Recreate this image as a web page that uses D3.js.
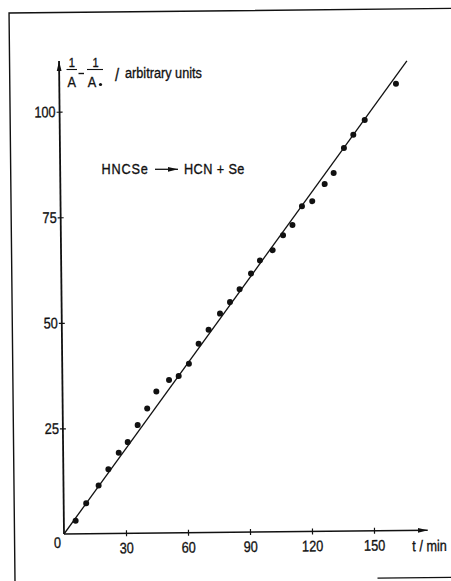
<!DOCTYPE html>
<html>
<head>
<meta charset="utf-8">
<script src="https://cdn.jsdelivr.net/npm/d3@7"></script>
<style>
  body { margin: 0; background: #fff; }
  svg text { font-family: "Liberation Sans", Arial, sans-serif; fill: #111; stroke: #111; stroke-width: 0.35; }
</style>
</head>
<body>
<div id="figure-container"></div>
<script>
// measured points, t in min and 1/A - 1/A0 in arbitrary units
var times = [5.7, 10.9, 17.0, 21.8, 26.9, 31.3, 36.2, 40.9, 45.4, 51.6, 56.3, 61.3, 66.1, 71.0, 76.6,
  81.5, 86.2, 91.8, 96.2, 102.4, 107.5, 112.1, 116.8, 121.8, 127.9, 132.3, 137.4, 142.0, 147.6, 162.9];
var values = [3.1, 7.2, 11.4, 15.2, 19.1, 21.6, 25.6, 29.5, 33.5, 36.2, 37.1, 40.0, 44.7, 48.0, 51.8,
  54.5, 57.5, 61.2, 64.3, 66.7, 70.2, 72.6, 77.0, 78.2, 82.2, 84.8, 90.7, 93.8, 97.3, 105.8];

// straight line through the origin
var fitT = [0, 168.3];
var fitV = [0, 111.2];

var xTicks = [30, 60, 90, 120, 150];
var yTicks = [25, 50, 75, 100];
var xAxisEnd = 176;
var yAxisEnd = 112;

var fullWidth = 451;
var fullHeight = 581;
var origin = {x: 64, y: 534};
var tilt = -0.6; // the scan is a bit rotated
var ink = '#111';
var squeeze = 0.82; // narrow typeface look

var xScale = d3.scaleLinear()
  .domain([0, 150])
  .range([0, 310]);

var yScale = d3.scaleLinear()
  .domain([0, 100])
  .range([0, -422.3]);

var svg = d3.select('#figure-container')
  .append('svg')
  .attr('width', fullWidth)
  .attr('height', fullHeight);

svg.append('defs').append('marker')
  .attr('id', 'arrow')
  .attr('viewBox', '0 0 10 6')
  .attr('refX', 10)
  .attr('refY', 3)
  .attr('markerWidth', 10)
  .attr('markerHeight', 6)
  .attr('markerUnits', 'userSpaceOnUse')
  .attr('orient', 'auto')
  .append('path')
  .attr('d', 'M0,0.6L10,3L0,5.4Z')
  .attr('fill', ink);

// text placed at x,y and squeezed horizontally
function label(parent, x, y, str, size, anchor) {
  return parent.append('text')
    .attr('transform', `translate(${x},${y}) scale(${squeeze},1)`)
    .attr('font-size', size)
    .attr('text-anchor', anchor || 'start')
    .text(str);
}

var g = svg.append('g')
  .attr('transform', `translate(${origin.x},${origin.y}) rotate(${tilt})`);

// frame
g.append('path')
  .attr('d', 'M420,-521.5H-49.5V47')
  .attr('fill', 'none')
  .attr('stroke', ink)
  .attr('stroke-width', 1.4);
g.append('line')
  .attr('x1', 313).attr('x2', 420)
  .attr('y1', 47.5).attr('y2', 47.5)
  .attr('stroke', ink)
  .attr('stroke-width', 1.2);

// axes
var xAxis = d3.axisBottom(xScale)
  .tickValues(xTicks)
  .tickSize(3)
  .tickPadding(6)
  .tickFormat(d3.format('d'));

var yAxis = d3.axisLeft(yScale)
  .tickValues(yTicks)
  .tickSize(3)
  .tickPadding(1)
  .tickFormat(d3.format('d'));

var gx = g.append('g').attr('class', 'axis x').call(xAxis);
var gy = g.append('g').attr('class', 'axis y').call(yAxis);

[gx, gy].forEach(function(a) {
  a.select('.domain').remove();
  a.attr('font-family', null).attr('font-size', null);
  a.selectAll('.tick line').attr('stroke', ink).attr('stroke-width', 1.2);
  a.selectAll('.tick text')
    .attr('font-size', 15.5)
    .attr('fill', ink);
});
gx.selectAll('.tick line').attr('y1', -3).attr('y2', 3);
gx.selectAll('.tick text').attr('transform', `scale(${squeeze},1)`);
gy.selectAll('.tick line').attr('x1', -3).attr('x2', 3);
gy.selectAll('.tick text').attr('x', null).attr('transform', `translate(-4,0) scale(${squeeze},1)`);

g.append('line')
  .attr('x1', 0).attr('y1', 0)
  .attr('x2', xScale(xAxisEnd)).attr('y2', 0)
  .attr('stroke', ink)
  .attr('stroke-width', 1.6)
  .attr('marker-end', 'url(#arrow)');

g.append('line')
  .attr('x1', 0).attr('y1', 0)
  .attr('x2', 0).attr('y2', yScale(yAxisEnd))
  .attr('stroke', ink)
  .attr('stroke-width', 1.8)
  .attr('marker-end', 'url(#arrow)');

label(g, -6.5, 14, '0', 15.5, 'middle');
label(g, xScale(xAxisEnd) + 19, 21, 't / min', 15.5, 'end');

// fitted line
var line = d3.line()
  .x(function(d) { return xScale(d[0]); })
  .y(function(d) { return yScale(d[1]); });

g.append('path')
  .datum(d3.zip(fitT, fitV))
  .attr('d', line)
  .attr('fill', 'none')
  .attr('stroke', ink)
  .attr('stroke-width', 1.3);

// points
g.append('g')
  .selectAll('circle')
  .data(d3.zip(times, values))
  .enter()
    .append('circle')
    .attr('cx', function(d) { return xScale(d[0]); })
    .attr('cy', function(d) { return yScale(d[1]); })
    .attr('r', 3)
    .attr('fill', ink);

// y label: 1/A - 1/A0 / arbitrary units
var lab = svg.append('g');
label(lab, 71.7, 66.5, '1', 13.5, 'middle');
lab.append('line').attr('x1', 66.5).attr('x2', 77).attr('y1', 69.5).attr('y2', 69.5).attr('stroke', ink).attr('stroke-width', 1.1);
label(lab, 71.7, 86.7, 'A', 15.5, 'middle');
lab.append('line').attr('x1', 78.5).attr('x2', 84).attr('y1', 73.5).attr('y2', 73.5).attr('stroke', ink).attr('stroke-width', 1.4);
label(lab, 95.5, 66.5, '1', 13.5, 'middle');
lab.append('line').attr('x1', 87).attr('x2', 103).attr('y1', 69.5).attr('y2', 69.5).attr('stroke', ink).attr('stroke-width', 1.1);
label(lab, 92, 86.7, 'A', 15.5, 'middle');
lab.append('circle').attr('cx', 100.5).attr('cy', 84.5).attr('r', 1.6).attr('fill', ink);
label(lab, 117, 81, '/', 18, 'middle');
label(lab, 125, 77.5, 'arbitrary units', 15.5);

// reaction
label(svg, 101.5, 173.5, 'HNCSe', 15.5).attr('letter-spacing', 1);
svg.append('line')
  .attr('x1', 155).attr('x2', 178)
  .attr('y1', 169.3).attr('y2', 169.3)
  .attr('stroke', ink)
  .attr('stroke-width', 1.3)
  .attr('marker-end', 'url(#arrow)');
label(svg, 184, 173.5, 'HCN + Se', 15.5).attr('letter-spacing', 0.5);
</script>
</body>
</html>
